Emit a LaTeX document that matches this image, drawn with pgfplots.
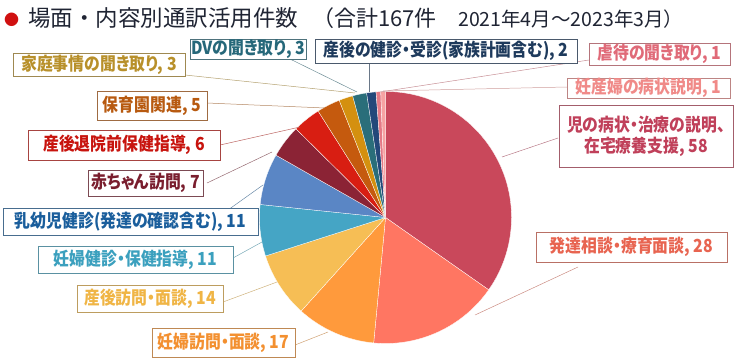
\documentclass[border=0pt]{standalone}
\usepackage{pgfplots}
\pgfplotsset{compat=1.18}
\usepackage{pgfplotstable}
\usepackage{fontspec}
\setmainfont{Noto Sans CJK JP}
\newfontfamily\lblfam{Noto Sans CJK JP}[FakeStretch=0.88, RawFeature=+palt]
% slice colours
\definecolor{s1}{HTML}{C9485B}
\definecolor{s2}{HTML}{FF7662}
\definecolor{s3}{HTML}{FF9A3C}
\definecolor{s4}{HTML}{F6BE55}
\definecolor{s5}{HTML}{45A5C5}
\definecolor{s6}{HTML}{5A86C5}
\definecolor{s7}{HTML}{8B2335}
\definecolor{s8}{HTML}{D81E12}
\definecolor{s9}{HTML}{C55A0E}
\definecolor{s10}{HTML}{D4900F}
\definecolor{s11}{HTML}{2A6E7A}
\definecolor{s12}{HTML}{23487A}
\definecolor{s13}{HTML}{E47A86}
\definecolor{s14}{HTML}{F6A2A2}
% label colours
\definecolor{t1}{HTML}{C0405A}
\definecolor{t2}{HTML}{E86450}
\definecolor{t3}{HTML}{F39030}
\definecolor{t4}{HTML}{F0B545}
\definecolor{t5}{HTML}{3BA0BE}
\definecolor{t6}{HTML}{1A5E9C}
\definecolor{t7}{HTML}{7A1E2E}
\definecolor{t8}{HTML}{C8140E}
\definecolor{t9}{HTML}{B85A10}
\definecolor{t10}{HTML}{B8902A}
\definecolor{t11}{HTML}{26687A}
\definecolor{t12}{HTML}{1E3A5C}
\definecolor{t13}{HTML}{E06A78}
\definecolor{t14}{HTML}{F08A88}
\definecolor{titlec}{HTML}{1F2433}
\definecolor{bulletc}{HTML}{D01010}

\pgfplotstableread{
v c
58 s1
28 s2
17 s3
14 s4
11 s5
11 s6
7 s7
6 s8
5 s9
3 s10
3 s11
2 s12
1 s13
1 s14
}\piedata

\newcommand\lblfont{\lblfam\fontsize{18bp}{21bp}\selectfont\bfseries}
\newcommand\lab[6]{%
  \draw[#5!55!gray, line width=0.6pt, fill=white] (axis cs:#1,#2) rectangle (axis cs:#3,#4);
  \node[text=#5, font=\lblfont, align=center, inner sep=0pt] at (axis cs:{(#1+#3)/2},{(#2+#4)/2}) {#6};}
\newcommand\lead[5]{\draw[#5!60!gray!80, line width=0.5pt] (axis cs:#1,#2) -- (axis cs:#3,#4);}

\begin{document}
\begin{tikzpicture}
\begin{axis}[at={(0,0)}, anchor=south west, width=736bp, height=358bp, scale only axis,
  xmin=0, xmax=736, ymin=0, ymax=358, y dir=reverse, hide axis, clip=false]
\path (axis cs:0,0) rectangle (axis cs:736,358);
\def\tot{0}
\pgfplotsforeachungrouped \i in {0,...,13}{%
  \pgfplotstablegetelem{\i}{v}\of\piedata
  \pgfmathsetmacro\tot{\tot+\pgfplotsretval}}
\def\cum{0}
\pgfplotsforeachungrouped \i in {0,...,13}{%
  \pgfplotstablegetelem{\i}{v}\of\piedata \let\val\pgfplotsretval
  \pgfplotstablegetelem{\i}{c}\of\piedata \let\col\pgfplotsretval
  \pgfmathsetmacro\sa{90-\cum/\tot*360}%
  \pgfmathsetmacro\ea{90-(\cum+\val)/\tot*360}%
  \edef\tmp{\noexpand\fill[\col, draw=white, line width=0.3pt] (axis cs:385.5,217.5) -- ([shift={(\sa:126bp)}]axis cs:385.5,217.5) arc[start angle=\sa, end angle=\ea, radius=126bp] -- cycle;}%
  \tmp
  \pgfmathsetmacro\cum{\cum+\val}%
}
% title
\node[anchor=base west, inner sep=0pt, text=bulletc, font=\fontsize{15bp}{18bp}\selectfont] at (axis cs:4,26) {●};
\node[anchor=base west, inner sep=0pt, text=titlec, font=\fontsize{22.5bp}{26bp}\selectfont] at (axis cs:28,27) {場面・内容別通訳活用件数};
\node[anchor=base west, inner sep=0pt, text=titlec, font=\fontsize{22bp}{26bp}\selectfont] at (axis cs:312,27) {（合計167件};
\node[anchor=base west, inner sep=0pt, text=titlec, font=\fontsize{19.5bp}{22bp}\selectfont] at (axis cs:458,27) {2021年4月～2023年3月）};
% leader lines
\lead{558}{138}{502}{157}{t1}
\lead{578}{267}{475}{315}{t2}
\lead{295}{345}{328}{332}{t3}
\lead{223}{302}{277}{282}{t4}
\lead{233}{258}{262}{242}{t5}
\lead{228}{210}{263}{185}{t6}
\lead{207}{183}{272}{152}{t7}
\lead{220}{145}{300}{127}{t8}
\lead{207}{103}{325}{108}{t9}
\lead{185}{75}{355}{93}{t10}
\lead{290}{59}{357}{92}{t11}
\lead{369}{63}{369}{92}{t12}
\lead{589}{60}{380}{92}{t13}
\lead{567}{87}{383}{91}{t14}
% labels
\lab{559}{105}{733}{167}{t1}{児の病状・治療の説明、\\在宅療養支援, 58}
\lab{536}{232}{727}{262}{t2}{発達相談・療育面談, 28}
\lab{152}{328}{295}{357}{t3}{妊婦訪問・面談, 17}
\lab{77}{285}{223}{312}{t4}{産後訪問・面談, 14}
\lab{38}{246}{233}{273}{t5}{妊婦健診・保健指導, 11}
\lab{3}{208}{258}{235}{t6}{乳幼児健診(発達の確認含む), 11}
\lab{88}{170}{203}{196}{t7}{赤ちゃん訪問, 7}
\lab{28}{130}{220}{160}{t8}{産後退院前保健指導, 6}
\lab{97}{91}{207}{120}{t9}{保育園関連, 5}
\lab{13}{53}{185}{76}{t10}{家庭事情の聞き取り, 3}
\lab{190}{39}{306}{59}{t11}{DVの聞き取り, 3}
\lab{315}{39}{577}{63}{t12}{産後の健診・受診(家族計画含む), 2}
\lab{589}{43}{730}{65}{t13}{虐待の聞き取り, 1}
\lab{567}{78}{730}{98}{t14}{妊産婦の病状説明, 1}
\end{axis}
\end{tikzpicture}
\end{document}
